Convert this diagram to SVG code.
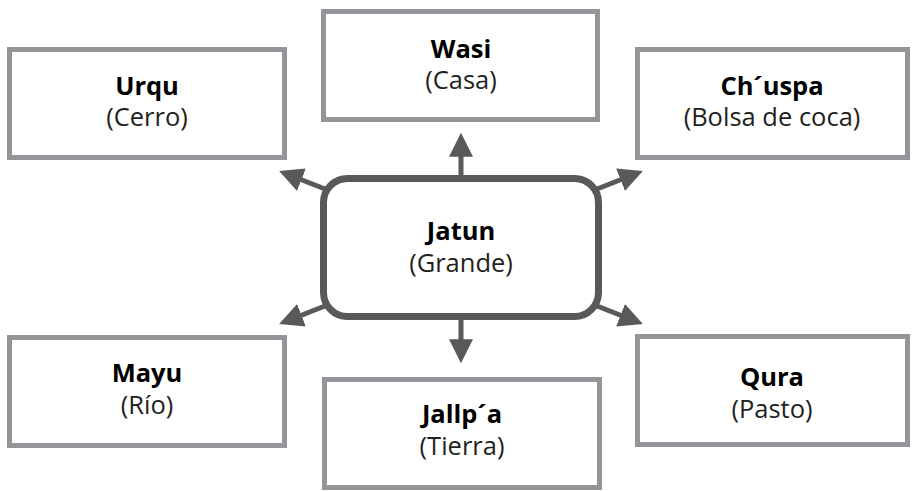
<svg xmlns="http://www.w3.org/2000/svg" width="913" height="491" viewBox="0 0 913 491">
<style>
.box{fill:#fff;stroke:#939598;stroke-width:5}
.hub{fill:#fff;stroke:#58595b;stroke-width:7}
.t{font-family:"Open Sans","Noto Sans",sans-serif;font-weight:700;font-size:25.5px;fill:#000;text-anchor:middle}
.s{font-family:"Open Sans","Noto Sans",sans-serif;font-weight:400;font-size:25.5px;fill:#231f20;text-anchor:middle}
.c{stroke:#58595b;stroke-width:5;fill:none;marker-end:url(#ah)}
</style>
<defs>
<marker id="ah" viewBox="0 0 10 10" refX="2" refY="5" markerWidth="4.8" markerHeight="5.6" markerUnits="strokeWidth" orient="auto">
<path d="M0,0 L10,5 L0,10 z" fill="#58595b"/>
</marker>
</defs>
<g id="connectors">
<line class="c" x1="461" y1="178" x2="461" y2="152"/>
<line class="c" x1="461" y1="317" x2="461" y2="344"/>
<line class="c" x1="330" y1="191" x2="297" y2="178"/>
<line class="c" x1="592" y1="191" x2="625" y2="178"/>
<line class="c" x1="330" y1="304" x2="297" y2="317"/>
<line class="c" x1="592" y1="304" x2="625" y2="317"/>
</g>
<g id="urqu">
<rect class="box" x="9.5" y="49.5" width="275" height="108"/>
<text class="t" x="147" y="95">Urqu</text>
<text class="s" x="147" y="126">(Cerro)</text>
</g>
<g id="wasi">
<rect class="box" x="323.5" y="11.5" width="274" height="108"/>
<text class="t" x="461" y="58">Wasi</text>
<text class="s" x="461" y="89">(Casa)</text>
</g>
<g id="chuspa">
<rect class="box" x="637.5" y="49.5" width="270" height="108"/>
<text class="t" x="772" y="95">Ch´uspa</text>
<text class="s" x="772" y="126">(Bolsa de coca)</text>
</g>
<g id="jatun">
<rect class="hub" x="323.5" y="178.5" width="275" height="138" rx="24"/>
<text class="t" x="461" y="240">Jatun</text>
<text class="s" x="461" y="272">(Grande)</text>
</g>
<g id="mayu">
<rect class="box" x="9.5" y="337.5" width="275" height="108"/>
<text class="t" x="147" y="382">Mayu</text>
<text class="s" x="147" y="414">(Río)</text>
</g>
<g id="jallpa">
<rect class="box" x="324.5" y="379.5" width="275" height="108"/>
<text class="t" x="462" y="423">Jallp´a</text>
<text class="s" x="462" y="455">(Tierra)</text>
</g>
<g id="qura">
<rect class="box" x="637.5" y="336.5" width="270" height="108"/>
<text class="t" x="772" y="386">Qura</text>
<text class="s" x="772" y="418">(Pasto)</text>
</g>
</svg>
